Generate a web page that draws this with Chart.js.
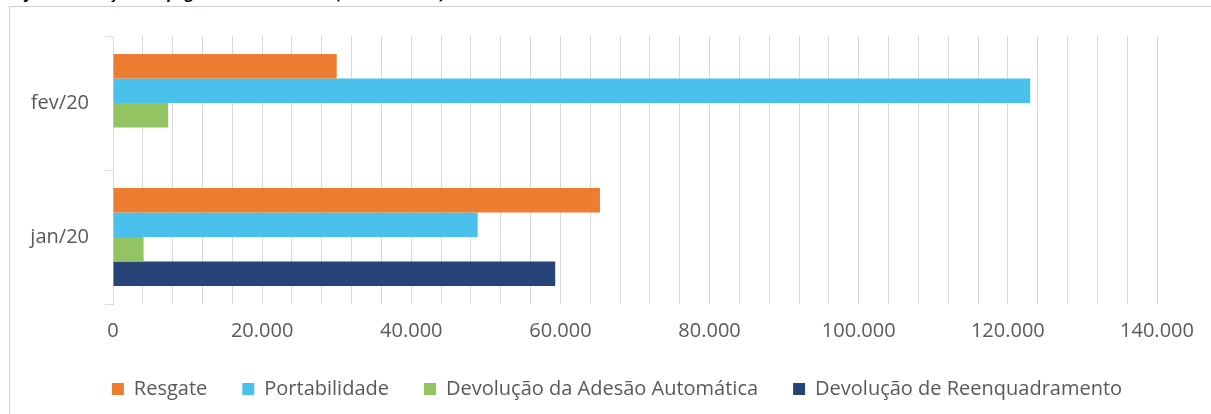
<!DOCTYPE html>
<html lang="pt-BR">
    <head>
        <meta charset="utf-8">
        <title> Pagamentos realizados </title>

        <script src="https://cdn.jsdelivr.net/npm/chart.js@4.4.1/dist/chart.umd.min.js"></script>
        <style>
            html, body { margin: 0; padding: 0; width: 1211px; height: 414px; overflow: hidden; background: #fff; }
            #titulo { position: absolute; left: 0; top: -17px; font: italic bold 15px "Open Sans"; color: #000; white-space: nowrap; }
            #quadro { position: absolute; left: 9px; top: 6px; width: 1214px; height: 420px;
                      border-top: 1px solid #d0d0d0; border-left: 1px solid #d0d0d0; }
        </style>
    </head>

    <body>
        <div id="titulo">Gráfico 3: Evolução dos pagamentos realizados (valores em R$).</div>
        <div id="quadro">
            <canvas id="myChart" width="1214" height="408"></canvas>
        </div>

        <script>

            // dados
            const Meses = ['fev/20', 'jan/20'];
            const Resgate = [30000, 65300];
            const Portabilidade = [123000, 48900];
            const DevolucaoAdesao = [7400, 4100];
            const DevolucaoReenquadramento = [null, 59300];

            const EixoMin = 0;
            const EixoMax = 140000;
            const PassoGrade = 4000;
            const PassoRotulo = 20000;

            const corTexto = '#595959';
            const corGrade = '#d9d9d9';
            const fonte = { family: 'Open Sans', size: 20 };

            const formata = v => String (v).replace (/\B(?=(\d{3})+(?!\d))/g, '.');

            const chartContext = document.getElementById ('myChart').getContext ('2d');
            const myBarChart = new Chart (chartContext, {
                type: 'bar',
                data: {
                    labels: Meses,
                    datasets: [
                        { label: 'Resgate', data: Resgate, backgroundColor: '#ed7d31' },
                        { label: 'Portabilidade', data: Portabilidade, backgroundColor: '#4ac1ec' },
                        { label: 'Devolução da Adesão Automática', data: DevolucaoAdesao, backgroundColor: '#92c462' },
                        { label: 'Devolução de Reenquadramento', data: DevolucaoReenquadramento, backgroundColor: '#264478' }
                    ]
                },
                options: {
                    indexAxis: 'y',
                    responsive: false,
                    animation: false,
                    devicePixelRatio: 1,
                    categoryPercentage: 0.73,
                    barPercentage: 1,
                    layout: { padding: { top: 29, right: 0, bottom: 6, left: 0 } },
                    scales: {
                        x: {
                            min: EixoMin,
                            max: EixoMax,
                            grid: { color: corGrade, lineWidth: 1, drawTicks: false },
                            border: { display: false },
                            ticks: {
                                stepSize: PassoGrade,
                                autoSkip: false,
                                maxRotation: 0,
                                padding: 15,
                                color: corTexto,
                                font: fonte,
                                callback: v => (v % PassoRotulo === 0 ? formata (v) : '')
                            },
                            afterFit: scale => { scale.height = 40; }
                        },
                        y: {
                            grid: { drawOnChartArea: false, color: corGrade, tickLength: 8, offset: true },
                            border: { display: true, color: corGrade },
                            ticks: { padding: 16, color: corTexto, font: fonte },
                            afterFit: scale => { scale.width = 103; }
                        },
                        // eixo vazio so para reservar a margem da direita
                        margem: {
                            type: 'category',
                            position: 'right',
                            grid: { display: false },
                            border: { display: false },
                            ticks: { display: false },
                            afterFit: scale => { scale.width = 67; }
                        }
                    },
                    plugins: {
                        legend: {
                            position: 'bottom',
                            labels: {
                                boxWidth: 12,
                                boxHeight: 12,
                                padding: 35,
                                color: corTexto,
                                font: fonte
                            }
                        },
                        tooltip: { enabled: false }
                    }
                }
            });

        </script>
    </body>
</html>
